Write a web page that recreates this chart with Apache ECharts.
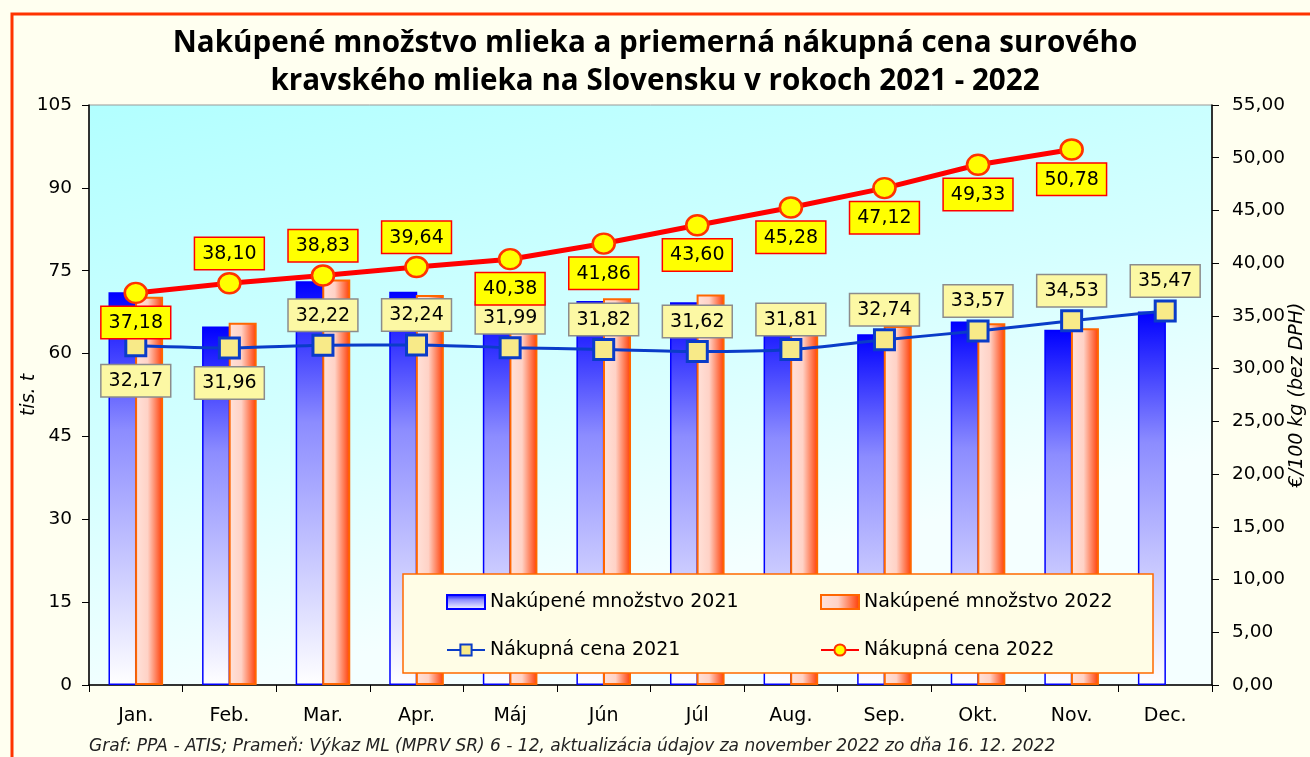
<!DOCTYPE html>
<html><head><meta charset="utf-8">
<script src="https://cdn.jsdelivr.net/npm/echarts@6/dist/echarts.min.js"></script>
<style>html,body{margin:0;padding:0;background:#fffff0}#c{width:1310px;height:757px}</style>
</head><body><div id="c"></div>
<script>
const months = ['Jan.','Feb.','Mar.','Apr.','Máj','Jún','Júl','Aug.','Sep.','Okt.','Nov.','Dec.'];
const qty2021 = [71.1,64.9,73.1,71.2,69.3,69.5,69.3,68.6,63.5,65.8,64.3,67.6];
const qty2022 = [70.3,65.6,73.4,70.6,69.4,70.0,70.7,68.9,65.0,65.5,64.6,null];
const price2021 = [32.17,31.96,32.22,32.24,31.99,31.82,31.62,31.81,32.74,33.57,34.53,35.47];
const price2022 = [37.18,38.10,38.83,39.64,40.38,41.86,43.60,45.28,47.12,49.33,50.78,null];
const leftTicks = [0,15,30,45,60,75,90,105];
const rightTicks = [0,5,10,15,20,25,30,35,40,45,50,55];
const pos2021 = ['bottom','bottom','top','top','top','top','top','top','top','top','top','top'];
const pos2022 = ['bottom','top','top','top','bottom','bottom','bottom','bottom','bottom','bottom','bottom','bottom'];

const names = ['Nakúpené množstvo 2021','Nakúpené množstvo 2022','Nákupná cena 2021','Nákupná cena 2022'];
const FONT = 'DejaVu Sans';
const fmt = v => (v == null ? '' : Number(v).toFixed(2).replace('.', ','));

const chart = echarts.init(document.getElementById('c'));
const lblBase = {show:true, fontFamily:FONT, fontSize:19, lineHeight:22, color:'#000', padding:[5,7,4,7], formatter: p => fmt(p.value)};

chart.setOption({
  backgroundColor:'#fffff0',
  animation:false,
  title:[
    {text:'Nakúpené množstvo mlieka a priemerná nákupná cena surového\nkravského mlieka na Slovensku v rokoch 2021 - 2022',
     left:650, top:20, textAlign:'center',
     textStyle:{fontFamily:'Open Sans', fontWeight:'bold', fontSize:29.6, lineHeight:38, color:'#000'}},
    {text:'Graf: PPA - ATIS; Prameň: Výkaz ML (MPRV SR) 6 - 12, aktualizácia údajov za november 2022 zo dňa 16. 12. 2022',
     left:89, top:738, padding:0, textStyle:{fontFamily:FONT, fontStyle:'italic', fontWeight:'normal', fontSize:17, color:'#222'}}
  ],
  graphic:[
    {type:'rect', shape:{x:12,y:14,width:1310,height:760}, style:{fill:'none', stroke:'#ff3300', lineWidth:3}, z:-1, silent:true},
    {type:'rect', shape:{x:403,y:574,width:750,height:99}, style:{fill:'#fffde6', stroke:'#ff6a00', lineWidth:1.5}, z:5}
  ],
  grid:{left:89, right:98, top:105, bottom:72, show:true, borderColor:'#999', borderWidth:1, outerBoundsMode:'none', containLabel:false,
    backgroundColor:{type:'linear', x:0, y:0, x2:0.12, y2:1, colorStops:[{offset:0,color:'#b2ffff'},{offset:0.6,color:'#d4ffff'},{offset:1,color:'#f4ffff'}]}},
  legend:[
    {left:446, top:591, padding:0, orient:'vertical', itemGap:26, itemWidth:38, itemHeight:14, z:10,
     data:[{name:names[0], icon:'rect'}, names[2]],
     textStyle:{fontFamily:FONT, fontSize:19, color:'#000', lineHeight:22}},
    {left:820, top:591, padding:0, orient:'vertical', itemGap:26, itemWidth:38, itemHeight:14, z:10,
     data:[{name:names[1], icon:'rect'}, names[3]],
     textStyle:{fontFamily:FONT, fontSize:19, color:'#000', lineHeight:22}}
  ],
  xAxis:{type:'category', data:months,
    axisLine:{lineStyle:{color:'#000', width:1.5}},
    axisTick:{show:true, length:7, lineStyle:{color:'#000'}},
    axisLabel:{fontFamily:FONT, fontSize:19, color:'#000', margin:22}},
  yAxis:[
    {type:'value', min:leftTicks[0], max:leftTicks[leftTicks.length-1], interval:leftTicks[1]-leftTicks[0],
     name:'tis. t', nameLocation:'middle', nameGap:50, nameRotate:90, nameMoveOverlap:false,
     nameTextStyle:{fontFamily:FONT, fontStyle:'italic', fontSize:19, color:'#000'},
     axisLine:{show:true, lineStyle:{color:'#000', width:1.5}},
     axisTick:{show:true, length:7, lineStyle:{color:'#000'}},
     splitLine:{show:false},
     axisLabel:{fontFamily:FONT, fontSize:18.5, color:'#000', margin:17}},
    {type:'value', min:rightTicks[0], max:rightTicks[rightTicks.length-1], interval:rightTicks[1]-rightTicks[0],
     position:'right',
     name:'€/100 kg (bez DPH)', nameLocation:'middle', nameGap:76, nameRotate:90, nameMoveOverlap:false,
     nameTextStyle:{fontFamily:FONT, fontStyle:'italic', fontSize:19, color:'#000'},
     axisLine:{show:true, lineStyle:{color:'#000', width:1.5}},
     axisTick:{show:true, length:7, lineStyle:{color:'#000'}},
     splitLine:{show:false},
     axisLabel:{fontFamily:FONT, fontSize:18.5, color:'#000', margin:20, formatter: v => fmt(v)}}
  ],
  series:[
    {name:names[0], type:'bar', yAxisIndex:0, data:qty2021, barWidth:28, barGap:'-5%', z:2,
     itemStyle:{borderColor:'#0000ff', borderWidth:1.5,
       color:{type:'linear', x:0,y:0,x2:0,y2:1, colorStops:[{offset:0,color:'#0000ff'},{offset:0.35,color:'#8c8cff'},{offset:1,color:'#ffffff'}]}}},
    {name:names[1], type:'bar', yAxisIndex:0, data:qty2022, barWidth:28, z:3,
     itemStyle:{borderColor:'#ff6600', borderWidth:2,
       color:{type:'linear', x:0,y:0,x2:1,y2:0, colorStops:[{offset:0,color:'#ffe2da'},{offset:0.45,color:'#ffd2c6'},{offset:1,color:'#ff3a00'}]}}},
    {name:names[2], type:'line', yAxisIndex:1, z:6, smooth:0.25,
     symbol:'rect', symbolSize:20,
     lineStyle:{color:'#0a3cc8', width:3},
     itemStyle:{color:'#f8ea88', borderColor:'#0a3cc8', borderWidth:3},
     data: price2021.map((v,i)=>({value:v, label:{position:pos2021[i], distance: pos2021[i]==='top'?3:8}})),
     label:Object.assign({}, lblBase, {backgroundColor:'#fcf8a4', borderColor:'#8c8c8c', borderWidth:1.5})},
    {name:names[3], type:'line', yAxisIndex:1, z:7,
     symbol:'circle', symbolSize:[22,20],
     lineStyle:{color:'#ff0000', width:5},
     itemStyle:{color:'#ffff00', borderColor:'#ff3300', borderWidth:2.5},
     data: price2022.map((v,i)=>({value:v, label:{position:pos2022[i], distance: 3}})),
     label:Object.assign({}, lblBase, {backgroundColor:'#ffff00', borderColor:'#ff0000', borderWidth:1.5})}
  ]
});
</script></body></html>
